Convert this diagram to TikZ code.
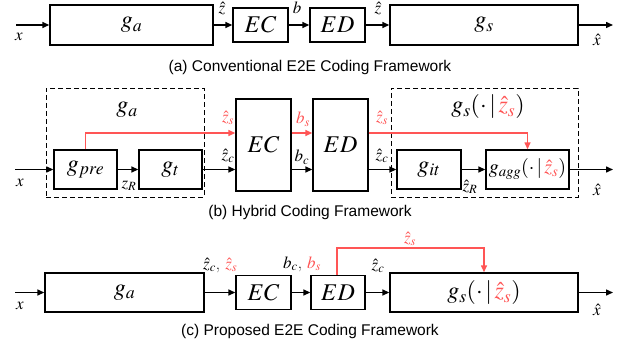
\documentclass[tikz,border=0pt]{standalone}
\usepackage{mathptmx}
\usepackage{fontspec}
\newfontfamily\capfont{Liberation Sans}
\usetikzlibrary{arrows.meta}
\definecolor{myred}{HTML}{FF5555}
\tikzset{
  box/.style={draw, line width=1.4pt, inner sep=0pt, font=\fontsize{24}{28}\selectfont},
  dbox/.style={draw, dash pattern=on 5pt off 3pt, line width=0.9pt, inner sep=0pt},
  arr/.style={line width=1.4pt, -{Triangle[length=7pt,width=6pt]}},
  rarr/.style={arr, draw=myred},
  lbl/.style={inner sep=0pt, font=\fontsize{17}{19}\selectfont},
  rlbl/.style={lbl, text=myred},
  captxt/.style={inner sep=0pt, font=\capfont\fontsize{15.5}{18}\selectfont},
}
\begin{document}
\begin{tikzpicture}[x=1pt,y=-1pt]
\useasboundingbox (0,0) rectangle (623,350);
% ---------- (a)
\coordinate (ina) at (16,25);
\coordinate (outa) at (613,25);
\node[box, minimum width=163pt, minimum height=40pt] (ga1) at (131.5,25) {$g_a$};
\node[box, minimum width=55pt, minimum height=34pt] (ec1) at (260.5,25) {$EC$};
\node[box, minimum width=55pt, minimum height=34pt] (ed1) at (337.5,25) {$ED$};
\node[box, minimum width=188pt, minimum height=40pt] (gs1) at (484,25) {$g_s$};
\draw[arr] (ina) -- (ga1.west);
\draw[arr] (ga1.east) -- (ec1.west);
\draw[arr] (ec1.east) -- (ed1.west);
\draw[arr] (ed1.east) -- (gs1.west);
\draw[arr] (gs1.east) -- (outa);
\node[lbl] (xa) at (19,37) {$x$};
\node[lbl] (za) at (222,9) {$\hat z$};
\node[lbl] (ba) at (297,8) {$b$};
\node[lbl] (za2) at (378,9) {$\hat z$};
\node[lbl] (xha) at (597,40) {$\hat x$};
\node[captxt] (capa) at (310,67) {(a) Conventional E2E Coding Framework};
% ---------- (b)
\node[dbox, minimum width=158pt, minimum height=109pt] (gabox) at (125,142.5) {};
\node[dbox, minimum width=187pt, minimum height=109pt] (gsbox) at (484.5,142.5) {};
\node[box, draw=none] (galbl) at (127,110) {$g_a$};
\node[box, draw=none] (gslbl) at (488,107) {$g_s(\cdot\,|\,{\color{myred}\hat{z}_s})$};
\node[box, minimum width=63pt, minimum height=39pt] (gpre) at (85.5,169.5) {$g_{pre}$};
\node[box, minimum width=63pt, minimum height=39pt] (gt) at (170.5,169.5) {$g_t$};
\node[box, minimum width=55pt, minimum height=92pt] (ec2) at (263.5,145) {$EC$};
\node[box, minimum width=55pt, minimum height=92pt] (ed2) at (340.5,145) {$ED$};
\node[box, minimum width=64pt, minimum height=39pt] (git) at (429,169.5) {$g_{it}$};
\node[box, minimum width=83pt, minimum height=39pt, font=\fontsize{20}{24}\selectfont] (gagg) at (527.5,169.5) {$g_{agg}(\cdot\,|\,{\color{myred}\hat{z}_s})$};
\coordinate (inb) at (15,169.5);
\coordinate (outb) at (613,169.5);
\draw[arr] (inb) -- (gpre.west);
\draw[arr] (gpre.east) -- (gt.west);
\draw[arr] (gt.east) -- (ec2.west |- gt.east);
\draw[arr] (ec2.east |- gt.east) -- (ed2.west |- gt.east);
\draw[arr] (ed2.east |- git.west) -- (git.west);
\draw[arr] (git.east) -- (gagg.west);
\draw[arr] (gagg.east) -- (outb);
\draw[rarr] (gpre.north) |- (ec2.west |- 0,133);
\draw[rarr] (ec2.east |- 0,133) -- (ed2.west |- 0,133);
\draw[rarr] (ed2.east |- 0,133) -| (gagg.north);
\node[lbl] (xb) at (20,183) {$x$};
\node[lbl] (zrb) at (129,186) {$z_R$};
\node[rlbl] (zsb1) at (228,118) {$\hat z_s$};
\node[lbl] (zcb1) at (228,156) {$\hat z_c$};
\node[rlbl] (bsb) at (303,119) {$b_s$};
\node[lbl] (bcb) at (302,157) {$b_c$};
\node[rlbl] (zsb2) at (382,118) {$\hat z_s$};
\node[lbl] (zcb2) at (382,156) {$\hat z_c$};
\node[lbl] (zrhb) at (470,187) {$\hat z_R$};
\node[lbl] (xhb) at (597,190) {$\hat x$};
\node[captxt] (capb) at (310,212) {(b) Hybrid Coding Framework};
% ---------- (c)
\coordinate (inc) at (15,292.5);
\coordinate (outc) at (613,292.5);
\node[box, minimum width=159pt, minimum height=39pt] (ga3) at (124.5,292.5) {$g_a$};
\node[box, minimum width=55pt, minimum height=34pt] (ec3) at (263.5,292.5) {$EC$};
\node[box, minimum width=54pt, minimum height=34pt] (ed3) at (338,292.5) {$ED$};
\node[box, minimum width=188pt, minimum height=39pt] (gs3) at (484,292.5) {$g_s(\cdot\,|\,{\color{myred}\hat{z}_s})$};
\coordinate (redup) at (337,248);
\draw[arr] (inc) -- (ga3.west);
\draw[arr] (ga3.east) -- (ec3.west);
\draw[arr] (ec3.east) -- (ed3.west);
\draw[arr] (ed3.east) -- (gs3.west);
\draw[arr] (gs3.east) -- (outc);
\draw[rarr] (ed3.north -| redup) -- (redup) -| (gs3.north);
\node[lbl] (xc) at (20,306) {$x$};
\node[lbl, anchor=west] (zcc) at (203,265) {$\hat z_c$, {\color{myred}$\hat z_s$}};
\node[lbl, anchor=west] (bcc) at (283,264) {$b_c$, {\color{myred}$b_s$}};
\node[lbl] (zcc2) at (378,266) {$\hat z_c$};
\node[rlbl] (zsc) at (410,239) {$\hat z_s$};
\node[lbl] (xhc) at (597,310) {$\hat x$};
\node[captxt] (capc) at (310,331) {(c) Proposed E2E Coding Framework};
\end{tikzpicture}
\end{document}
